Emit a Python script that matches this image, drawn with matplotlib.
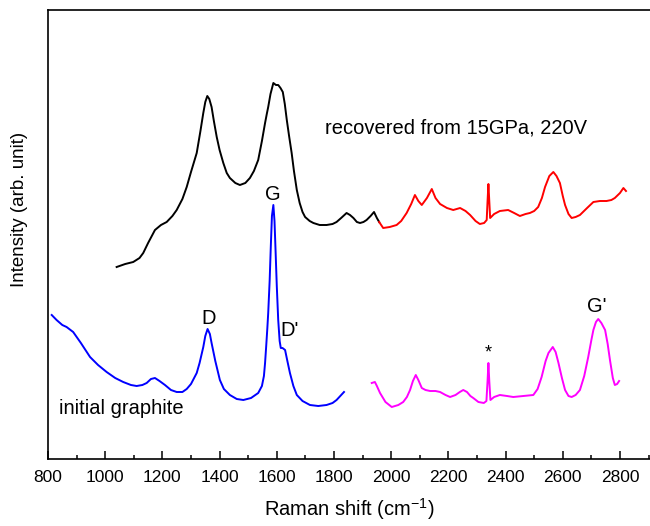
import matplotlib
matplotlib.use("Agg")
import matplotlib.pyplot as plt
from matplotlib.ticker import MultipleLocator

plt.rcParams['font.family'] = ['Liberation Sans', 'DejaVu Sans']
plt.rcParams['mathtext.fontset'] = 'custom'
plt.rcParams['mathtext.rm'] = 'Liberation Sans'
plt.rcParams['mathtext.default'] = 'regular'

# Recovered sample (black part)
rec_black_x = [1040, 1070, 1098, 1120, 1133, 1150, 1174, 1195, 1215, 1235, 1250, 1270,
               1285, 1300, 1320, 1333, 1343, 1350, 1357, 1364, 1372, 1380, 1390, 1400,
               1413, 1425, 1436, 1455, 1471, 1490, 1506, 1520, 1535, 1548, 1559, 1565,
               1570, 1578, 1588, 1597, 1605, 1613, 1621, 1628, 1635, 1643, 1652, 1660,
               1670, 1680, 1690, 1699, 1715, 1728, 1750, 1774, 1795, 1809, 1825, 1844,
               1856, 1868, 1880, 1891, 1903, 1914, 1928, 1940, 1950, 1958]
rec_black_y = [259, 262, 264, 268, 273, 283, 296, 301, 304, 310, 316, 327,
               339, 354, 373, 395, 413, 424, 430, 427, 419, 405, 389, 376,
               363, 353, 348, 343, 341, 343, 348, 355, 366, 385, 403, 412,
               419, 432, 443, 441, 441, 438, 434, 422, 406, 390, 373, 355,
               336, 323, 314, 309, 305, 303, 301, 301, 302, 304, 308, 313,
               311, 308, 304, 303, 304, 306, 310, 314, 308, 304]

# Recovered sample (red part)
rec_red_x = [1958, 1972, 1995, 2019, 2035, 2054, 2070, 2083, 2095, 2107, 2125, 2142,
             2155, 2171, 2195, 2217, 2241, 2260, 2276, 2295, 2310, 2325, 2334, 2337,
             2340, 2343, 2346, 2360, 2380, 2409, 2430, 2450, 2470, 2485, 2500, 2514,
             2527, 2538, 2553, 2567, 2578, 2590, 2600, 2608, 2620, 2631, 2645, 2660,
             2685, 2707, 2730, 2753, 2770, 2782, 2800, 2812, 2821]
rec_red_y = [304, 298, 299, 301, 305, 313, 322, 331, 325, 321, 328, 337,
             328, 322, 318, 316, 318, 315, 311, 305, 302, 303, 306, 325,
             342, 325, 308, 312, 315, 316, 313, 310, 312, 313, 315, 319,
             328, 339, 350, 354, 350, 343, 330, 321, 312, 308, 309, 311,
             318, 324, 325, 325, 326, 328, 333, 338, 335]

# Initial graphite (blue part)
ini_blue_x = [813, 830, 850, 865, 888, 915, 947, 975, 1005, 1035, 1063, 1090,
              1110, 1130, 1145, 1160, 1174, 1190, 1209, 1230, 1250, 1270, 1285, 1300,
              1320, 1330, 1343, 1350, 1358, 1366, 1372, 1385, 1401, 1415, 1436, 1460,
              1483, 1510, 1535, 1548, 1555, 1559, 1563, 1567, 1570, 1575, 1579, 1583,
              1588, 1592, 1596, 1600, 1605, 1610, 1614, 1620, 1629, 1637, 1646, 1658,
              1670, 1690, 1716, 1745, 1774, 1795, 1809, 1822, 1835]
ini_blue_y = [211, 206, 201, 199, 194, 183, 169, 161, 154, 148, 144, 141,
              140, 141, 143, 147, 148, 145, 141, 136, 134, 134, 137, 142,
              153, 163, 179, 190, 197, 192, 183, 165, 146, 137, 131, 127,
              126, 128, 133, 140, 150, 163, 180, 198, 213, 245, 279, 310,
              321, 305, 273, 240, 206, 185, 178, 178, 176, 165, 153, 140,
              131, 125, 121, 120, 121, 123, 126, 130, 134]

# Initial graphite (magenta part)
ini_mag_x = [1932, 1943, 1950, 1961, 1980, 2002, 2025, 2042, 2055, 2066, 2076, 2086,
             2095, 2107, 2120, 2136, 2155, 2171, 2190, 2206, 2225, 2240, 2252, 2265,
             2277, 2287, 2305, 2324, 2333, 2337, 2340, 2343, 2347, 2360, 2380, 2405,
             2427, 2462, 2497, 2512, 2526, 2540, 2550, 2565, 2575, 2585, 2597, 2608,
             2620, 2631, 2645, 2660, 2675, 2689, 2700, 2707, 2716, 2724, 2735, 2748,
             2757, 2765, 2775, 2782, 2790, 2797]
ini_mag_y = [143, 144, 140, 133, 124, 119, 121, 124, 129, 136, 145, 151,
             146, 138, 136, 135, 135, 134, 131, 129, 131, 134, 136, 134,
             130, 128, 124, 123, 125, 145, 163, 145, 126, 129, 131, 130,
             129, 130, 131, 137, 149, 165, 173, 179, 174, 163, 148, 136,
             130, 129, 131, 136, 150, 169, 186, 196, 204, 207, 203, 196,
             182, 166, 148, 141, 142, 145]

x_ticks = [800, 1000, 1200, 1400, 1600, 1800, 2000, 2200, 2400, 2600, 2800]

fig = plt.figure(figsize=(6.5, 5.26), dpi=100)
ax = fig.add_axes([48 / 650, 67 / 526, 602 / 650, 449 / 526])

lw = 1.4
ax.plot(rec_black_x, rec_black_y, color='black', lw=lw)
ax.plot(rec_red_x, rec_red_y, color='#ff0000', lw=lw)
ax.plot(ini_blue_x, ini_blue_y, color='#0000ff', lw=lw)
ax.plot(ini_mag_x, ini_mag_y, color='#ff00ff', lw=lw)

ax.set_xlim(800, 2905)
ax.set_ylim(67, 516)
ax.set_xticks(x_ticks)
ax.xaxis.set_minor_locator(MultipleLocator(100))
ax.set_yticks([])
ax.tick_params(axis='x', which='major', direction='in', length=6, width=1.1,
               labelsize=12.5, pad=8)
ax.tick_params(axis='x', which='minor', direction='in', length=3, width=1.1)
ax.spines['right'].set_visible(False)
for s in ['left', 'top', 'bottom']:
    ax.spines[s].set_linewidth(1.2)

ax.set_xlabel('Raman shift (cm$^{-1}$)', fontsize=14.5, labelpad=8)
ax.set_ylabel('Intensity (arb. unit)', fontsize=13.5, va='center')
ax.yaxis.set_label_coords(-0.047, 0.555)

ax.text(1769, 398, 'recovered from 15GPa, 220V', fontsize=14.5, va='center', ha='left')
ax.text(838, 118, 'initial graphite', fontsize=14.5, va='center', ha='left')
ax.text(1360, 208, 'D', fontsize=14.5, ha='center', va='center')
ax.text(1587, 331, 'G', fontsize=14.5, ha='center', va='center')
ax.text(1645, 196, "D'", fontsize=14.5, ha='center', va='center')
ax.text(2340, 173, '*', fontsize=13, ha='center', va='center')
ax.text(2720, 220, "G'", fontsize=14.5, ha='center', va='center')

fig.savefig('out.png', dpi=100)
